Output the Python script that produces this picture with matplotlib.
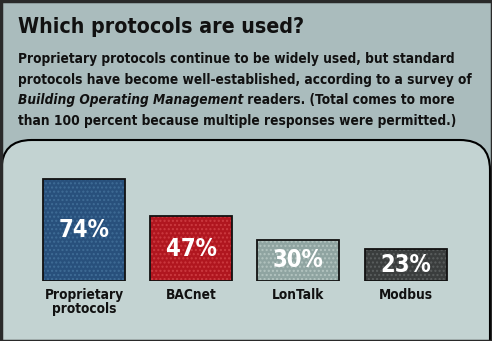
import matplotlib
matplotlib.use("Agg")
import matplotlib.pyplot as plt
from matplotlib.patches import FancyBboxPatch, Rectangle

# survey results
protocols = ["Proprietary\nprotocols", "BACnet", "LonTalk", "Modbus"]
shares = [74, 47, 30, 23]
bar_colors = ["#28507c", "#b0161f", "#8fa4a1", "#3a3d3d"]
dot_colors = ["#3f6c96", "#cc3a40", "#b3c4c0", "#5a5e5e"]

title = "Which protocols are used?"
intro_lines = [
    "Proprietary protocols continue to be widely used, but standard",
    "protocols have become well-established, according to a survey of",
    None,  # line with italic magazine name
    "than 100 percent because multiple responses were permitted.)",
]
magazine = "Building Operating Management"
line3_rest = " readers. (Total comes to more"

FONT = dict(family="DejaVu Sans", fontstretch="condensed", fontweight="bold")
W, H = 492, 341

plt.rcParams["hatch.linewidth"] = 1.0

fig = plt.figure(figsize=(W / 100, H / 100), dpi=100)
fig.patch.set_facecolor("#aabcbd")

# background axes in pixel units, y pointing down
bg = fig.add_axes([0, 0, 1, 1])
bg.set_xlim(0, W)
bg.set_ylim(H, 0)
bg.axis("off")

panel = FancyBboxPatch((1.5, 140), 488.5, 240,
                       boxstyle="round,pad=0,rounding_size=30",
                       facecolor="#c3d3d2", edgecolor="black", linewidth=1.5)
bg.add_patch(panel)
bg.add_patch(Rectangle((0.5, 0.5), W - 1, H - 1, fill=False,
                       edgecolor="#2a2a2a", linewidth=2.5))

fig.canvas.draw()
rend = fig.canvas.get_renderer()


def px_width(t):
    bb = t.get_window_extent(rend)
    return bb.width


tt = bg.text(18, 33, title, fontsize=20, color="#111111", va="baseline", **FONT)
# shrink the heading to its printed width
tt.set_fontsize(20 * min(1.0, 286 / px_width(tt)))

x0, y0, pitch = 18, 63, 20.7
probe = bg.text(0, 0, intro_lines[0], fontsize=12, **FONT)
size = 12 * min(1.08, 435 / px_width(probe))
probe.remove()

for i, line in enumerate(intro_lines):
    y = y0 + i * pitch
    if line is not None:
        bg.text(x0, y, line, fontsize=size, color="#111111", va="baseline",
                **FONT)
    else:
        t = bg.text(x0, y, magazine, fontsize=size, style="italic",
                    color="#111111", va="baseline", **FONT)
        bb = t.get_window_extent(rend)
        x1 = bg.transData.inverted().transform((bb.x1, 0))[0]
        bg.text(x1, y, line3_rest, fontsize=size, color="#111111",
                va="baseline", **FONT)

# bar chart sitting in the panel
ax = fig.add_axes([30.4 / W, 60 / H, 428.7 / W, 110.3 / H])
ax.set_xlim(-0.5, 3.5)
ax.set_ylim(0, 80)
ax.patch.set_visible(False)
for s in ax.spines.values():
    s.set_visible(False)
ax.set_yticks([])

xs = list(range(len(protocols)))
ax.bar(xs, shares, width=0.765, color=bar_colors, linewidth=0)
# fine screen-dot texture on top of the fills
for x, v, dc in zip(xs, shares, dot_colors):
    ax.bar(x, v, width=0.765, fill=False, edgecolor=dc, hatch="....",
           linewidth=0)
ax.bar(xs, shares, width=0.765, fill=False, edgecolor="#111111",
       linewidth=1.3)
for x, v in zip(xs, shares):
    ax.text(x, v / 2, f"{v}%", ha="center", va="center", color="white",
            fontsize=17, **FONT)

ax.set_xticks(xs)
ax.set_xticklabels(protocols, fontsize=9.8, color="#111111", linespacing=1.05,
                   **FONT)
ax.tick_params(axis="x", length=0, pad=5)

fig.savefig("out.png", dpi=100, facecolor=fig.get_facecolor())
